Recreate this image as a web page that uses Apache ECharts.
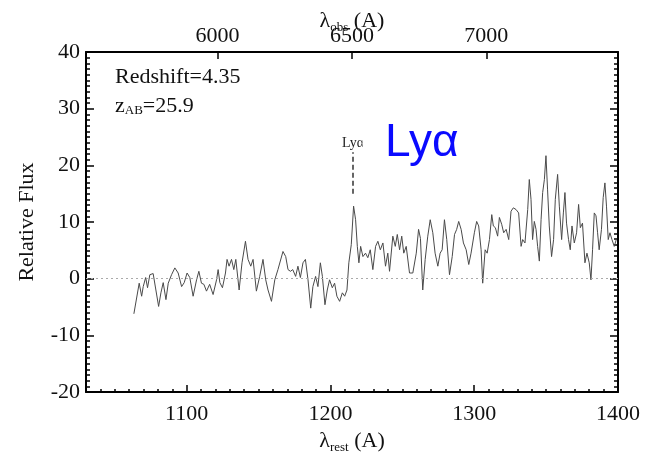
<!DOCTYPE html>
<html>
<head>
<meta charset="utf-8">
<script src="https://cdn.jsdelivr.net/npm/echarts@6/dist/echarts.min.js"></script>
<style>
html,body{margin:0;padding:0;background:#fff;}
#chart{width:646px;height:454px;}
</style>
</head>
<body>
<div id="chart"></div>
<script>
// ---- data ----
const redshift = 4.35;
const zAB = 25.9;
const lyaRest = 1215.67;
const lyaMarkRange = [15, 22.3];
const xTicks = [1100, 1200, 1300, 1400];
const obsTicks = [6000, 6500, 7000];
const restWave = [
  1063.3,1067.0,1068.7,1069.8,1071.5,1072.8,1074.4,1076.7,1078.6,1080.5,
  1082.1,1083.7,1085.6,1087.2,1089.5,1091.8,1094.1,1096.5,1098.3,1100.3,
  1102.2,1104.5,1106.9,1108.5,1110.3,1112.0,1113.8,1116.0,1118.4,1120.8,
  1121.9,1123.1,1124.9,1127.0,1128.1,1129.5,1131.2,1132.8,1134.2,1136.5,
  1138.5,1140.9,1142.7,1144.6,1146.2,1148.5,1150.8,1153.1,1155.0,1156.6,
  1159.0,1161.3,1163.5,1167.0,1168.9,1170.5,1172.2,1173.8,1175.8,1177.4,
  1179.1,1180.9,1182.6,1184.4,1186.3,1187.8,1189.7,1191.3,1193.0,1194.4,
  1196.2,1197.8,1199.4,1201.3,1202.9,1204.5,1206.4,1208.3,1209.9,1211.5,
  1212.8,1214.5,1216.1,1217.5,1218.7,1219.8,1221.0,1222.6,1224.4,1226.0,
  1227.7,1229.5,1231.4,1233.0,1234.7,1236.5,1238.3,1239.9,1241.1,1243.4,
  1245.1,1246.5,1248.1,1249.6,1251.0,1252.7,1255.0,1257.3,1259.7,1261.3,
  1262.6,1264.2,1265.9,1267.7,1269.4,1271.2,1272.8,1274.7,1276.3,1277.7,
  1279.3,1280.9,1282.8,1284.7,1286.3,1287.8,1289.2,1290.9,1292.5,1294.4,
  1296.2,1297.8,1300.1,1301.7,1303.1,1304.8,1305.9,1307.6,1309.0,1310.6,
  1312.2,1313.3,1314.7,1316.3,1317.5,1319.1,1320.5,1322.2,1324.0,1325.6,
  1327.2,1329.1,1330.9,1332.6,1333.7,1335.3,1337.2,1338.3,1339.5,1340.6,
  1341.8,1343.0,1344.1,1345.3,1346.5,1347.6,1348.8,1349.9,1351.0,1352.2,
  1353.8,1355.2,1356.4,1358.0,1359.2,1360.8,1362.0,1363.1,1364.2,1365.6,
  1366.8,1368.0,1369.6,1371.2,1372.6,1373.8,1375.3,1377.0,1378.4,1380.0,
  1381.2,1382.3,1383.5,1384.7,1385.8,1386.9,1388.5,1389.7,1390.9,1392.0,
  1393.2,1394.4,1395.8,1397.4,1398.8
];
const flux = [
  -6.2,-0.8,-3.1,-1.4,0.2,-1.6,0.7,0.9,-2.0,-4.9,
  -2.5,-0.7,-3.7,-0.8,0.7,1.9,1.0,-1.4,-0.7,1.0,
  0.2,-3.1,-0.2,1.3,-0.8,-1.0,-2.2,-1.0,-2.8,-0.2,
  1.6,-0.7,-1.6,1.0,3.4,2.2,3.4,1.6,3.4,-2.0,
  2.8,6.6,3.4,2.2,3.4,-2.2,0.4,3.4,-0.2,-2.0,
  -4.0,-0.2,1.6,4.8,3.9,1.6,1.3,1.6,0.4,2.2,
  0.2,2.8,3.4,-0.2,-5.2,-1.4,0.4,-1.4,2.8,0.4,
  -4.6,-2.0,-0.2,-1.6,-0.8,-3.1,-4.0,-2.5,-3.1,-2.0,
  2.8,6.0,12.8,10.4,5.7,2.8,5.7,3.9,4.5,3.7,
  5.1,1.6,5.7,6.6,5.1,6.3,2.2,4.5,1.3,7.5,
  5.7,7.8,5.1,7.5,4.5,5.7,1.0,1.0,4.5,8.7,
  7.1,-2.0,3.4,7.5,10.4,8.1,4.5,2.2,4.5,5.1,
  10.4,6.9,0.7,3.9,7.8,8.7,10.1,8.7,6.3,5.1,
  2.5,4.5,8.1,10.1,9.3,5.1,-0.8,5.1,4.5,6.9,
  11.3,9.3,9.0,7.5,10.8,9.6,8.1,8.7,6.9,11.9,
  12.5,12.2,11.6,5.7,6.9,6.3,12.2,17.5,14.0,6.9,
  10.1,8.7,5.7,3.1,10.4,15.2,17.5,21.7,15.8,9.3,
  3.9,6.9,14.0,18.4,12.8,6.9,11.6,15.2,9.8,6.9,
  5.1,9.3,6.3,8.1,13.1,9.0,9.8,2.8,4.5,2.8,
  -0.2,5.1,11.6,11.1,8.1,5.1,8.7,14.3,16.9,12.8,
  6.9,8.1,6.9,5.7,6.9
];

// ---- chart ----
const SERIF = '"Liberation Serif", "DejaVu Serif", serif';
const chart = echarts.init(document.getElementById('chart'), null, {renderer: 'canvas'});
const frame = {show: true, onZero: false, lineStyle: {color: '#000', width: 2}};
const tickStyle = {color: '#000', width: 1.5};
const labelFont = {fontFamily: SERIF, fontSize: 22, color: '#111'};
const obsTickRest = obsTicks.map(v => v / (1 + redshift));

const option = {
  animation: false,
  backgroundColor: '#fff',
  grid: {left: 86, right: 28, top: 52, bottom: 62, containLabel: false, outerBoundsMode: 'none'},
  xAxis: [
    { // bottom minor ticks
      type: 'value', min: 1030, max: 1400, interval: 10, position: 'bottom',
      axisLine: frame,
      axisTick: {inside: true, length: 3, lineStyle: tickStyle},
      axisLabel: {show: false}, splitLine: {show: false}
    },
    { // bottom major ticks + labels
      type: 'value', min: 1030, max: 1400, position: 'bottom',
      axisLine: {show: false, onZero: false},
      axisTick: {inside: true, length: 7, customValues: xTicks, lineStyle: tickStyle},
      axisLabel: Object.assign({customValues: xTicks, margin: 11, formatter: v => String(v)}, labelFont),
      splitLine: {show: false},
      name: '{l|λ}{s|rest}{l| (A)}', nameLocation: 'middle', nameGap: 37,
      nameTextStyle: {rich: {
        l: {fontFamily: SERIF, fontSize: 22, color: '#111'},
        s: {fontFamily: SERIF, fontSize: 13, color: '#111', padding: [12, 0, 0, 0]}
      }}
    },
    { // top observed-frame axis
      type: 'value', min: 1030, max: 1400, position: 'top',
      axisLine: frame,
      axisTick: {inside: true, length: 7, customValues: obsTickRest, lineStyle: tickStyle},
      axisLabel: Object.assign({customValues: obsTickRest, margin: 5,
        formatter: v => String(Math.round(v * (1 + redshift)))}, labelFont),
      splitLine: {show: false},
      name: '{l|λ}{s|obs}{l| (A)}', nameLocation: 'middle', nameGap: 18, nameMoveOverlap: false,
      nameTextStyle: {rich: {
        l: {fontFamily: SERIF, fontSize: 22, color: '#111'},
        s: {fontFamily: SERIF, fontSize: 13, color: '#111', padding: [12, 0, 0, 0]}
      }}
    }
  ],
  yAxis: [
    {
      type: 'value', min: -20, max: 40, interval: 10, position: 'left',
      axisLine: frame,
      axisTick: {inside: true, length: 8, lineStyle: tickStyle},
      minorTick: {show: true, splitNumber: 10, length: 4, lineStyle: tickStyle},
      axisLabel: Object.assign({margin: 6}, labelFont),
      splitLine: {show: false},
      name: 'Relative Flux', nameLocation: 'middle', nameGap: 48, nameRotate: 90,
      nameTextStyle: {fontFamily: SERIF, fontSize: 22, color: '#111'}
    },
    {
      type: 'value', min: -20, max: 40, interval: 10, position: 'right',
      axisLine: frame,
      axisTick: {inside: true, length: 8, lineStyle: tickStyle},
      minorTick: {show: true, splitNumber: 10, length: 4, lineStyle: tickStyle},
      axisLabel: {show: false}, splitLine: {show: false}
    }
  ],
  series: [{
    type: 'line',
    xAxisIndex: 0, yAxisIndex: 0,
    data: restWave.map((w, i) => [w, flux[i]]),
    showSymbol: false, symbol: 'none',
    lineStyle: {color: '#4a4a4a', width: 1},
    z: 3,
    markLine: {
      silent: true, symbol: 'none', animation: false,
      data: [
        {yAxis: 0, lineStyle: {type: [2, 3], color: '#aaa', width: 1}, label: {show: false}},
        [
          {coord: [lyaRest, lyaMarkRange[0]], lineStyle: {type: [5, 3], color: '#333', width: 1.5},
           label: {show: true, position: 'end', formatter: 'Lyα', fontFamily: SERIF, fontSize: 14, color: '#222', distance: 2}},
          {coord: [lyaRest, lyaMarkRange[1]], lineStyle: {type: [5, 3], color: '#333', width: 1.5}}
        ]
      ]
    }
  }],
  graphic: [
    {type: 'text', left: 115, top: 66, z: 10,
     style: {text: 'Redshift=' + redshift.toFixed(2), font: '22px ' + SERIF, fill: '#111'}},
    {type: 'text', left: 115, top: 95, z: 10,
     style: {text: '{z|z}{s|AB}{z|=' + zAB.toFixed(1) + '}', rich: {
        z: {fontFamily: SERIF, fontSize: 22, fill: '#111'},
        s: {fontFamily: SERIF, fontSize: 13, fill: '#111', padding: [10, 0, 0, 0]}
     }}},
    {type: 'rect', shape: {x: 362.5, y: 134, width: 8, height: 18}, style: {fill: '#fff'}, z: 10, silent: true},
    {type: 'text', left: 385, top: 120, z: 11,
     style: {text: 'Lyα', font: '46px "Liberation Sans", Arial, sans-serif', fill: '#0a0aff'}}
  ]
};
chart.setOption(option);
</script>
</body>
</html>
